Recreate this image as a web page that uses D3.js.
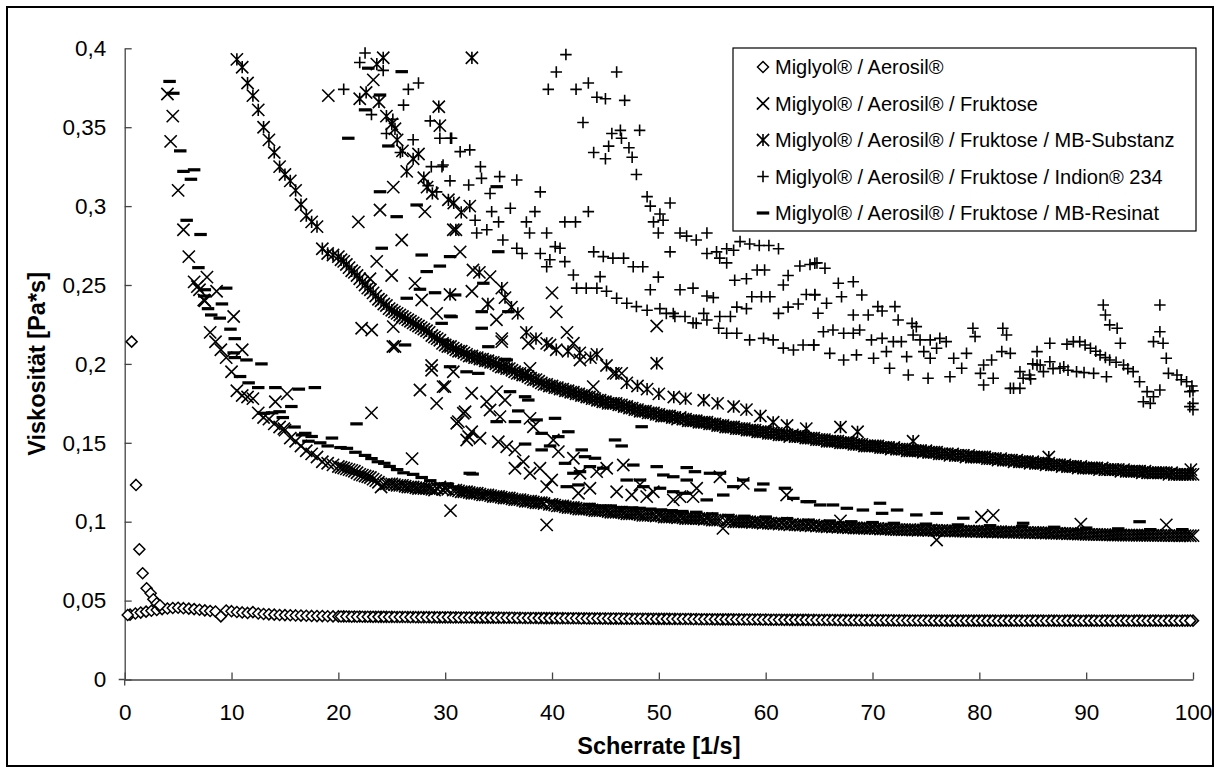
<!DOCTYPE html>
<html>
<head>
<meta charset="utf-8">
<script src="https://cdn.jsdelivr.net/npm/d3@7"></script>
<style>
  html, body { margin: 0; padding: 0; background: #fff; }
  svg { display: block; font-family: "Liberation Sans", Arial, sans-serif; }
</style>
</head>
<body>
<svg id="chart" width="1220" height="769"></svg>
<script>
// Viskosität vs. Scherrate, five formulations (Excel-style scatter)

// shear-rate grid of the upward ramps
const shearRate = [
  0.5, 1, 1.5, 2, 2.5, 3, 3.5, 4, 4.5, 5,
  5.5, 6, 6.5, 7, 7.5, 8, 8.5, 9, 9.5, 10,
  10.5, 11, 11.5, 12, 12.5, 13, 13.5, 14, 14.5, 15,
  15.5, 16, 16.5, 17, 17.5, 18, 18.5, 19, 19.5, 20,
  20.5, 21, 21.5, 22, 22.5, 23, 23.5, 24, 24.5, 25,
  25.5, 26, 26.5, 27, 27.5, 28, 28.5, 29, 29.5, 30,
  30.5, 31, 31.5, 32, 32.5, 33, 33.5, 34, 34.5, 35,
  35.5, 36, 36.5, 37, 37.5, 38, 38.5, 39, 39.5, 40,
  40.5, 41, 41.5, 42, 42.5, 43, 43.5, 44, 44.5, 45,
  45.5, 46, 46.5, 47, 47.5, 48, 48.5, 49, 49.5, 50,
  50.5, 51, 51.5, 52, 52.5, 53, 53.5, 54, 54.5, 55,
  55.5, 56, 56.5, 57, 57.5, 58, 58.5, 59, 59.5, 60,
  60.5, 61, 61.5, 62, 62.5, 63, 63.5, 64, 64.5, 65,
  65.5, 66, 66.5, 67, 67.5, 68, 68.5, 69, 69.5, 70,
  70.5, 71, 71.5, 72, 72.5, 73, 73.5, 74, 74.5, 75,
  75.5, 76, 76.5, 77, 77.5, 78, 78.5, 79, 79.5, 80,
  80.5, 81, 81.5, 82, 82.5, 83, 83.5, 84, 84.5, 85,
  85.5, 86, 86.5, 87, 87.5, 88, 88.5, 89, 89.5, 90,
  90.5, 91, 91.5, 92, 92.5, 93, 93.5, 94, 94.5, 95,
  95.5, 96, 96.5, 97, 97.5, 98, 98.5, 99, 99.5, 100
];

// shear-rate grid of the downward ramps (flat part only)
const shearRateDown = [
  20.25, 20.75, 21.25, 21.75, 22.25, 22.75, 23.25, 23.75, 24.25, 24.75,
  25.25, 25.75, 26.25, 26.75, 27.25, 27.75, 28.25, 28.75, 29.25, 29.75,
  30.25, 30.75, 31.25, 31.75, 32.25, 32.75, 33.25, 33.75, 34.25, 34.75,
  35.25, 35.75, 36.25, 36.75, 37.25, 37.75, 38.25, 38.75, 39.25, 39.75,
  40.25, 40.75, 41.25, 41.75, 42.25, 42.75, 43.25, 43.75, 44.25, 44.75,
  45.25, 45.75, 46.25, 46.75, 47.25, 47.75, 48.25, 48.75, 49.25, 49.75,
  50.25, 50.75, 51.25, 51.75, 52.25, 52.75, 53.25, 53.75, 54.25, 54.75,
  55.25, 55.75, 56.25, 56.75, 57.25, 57.75, 58.25, 58.75, 59.25, 59.75,
  60.25, 60.75, 61.25, 61.75, 62.25, 62.75, 63.25, 63.75, 64.25, 64.75,
  65.25, 65.75, 66.25, 66.75, 67.25, 67.75, 68.25, 68.75, 69.25, 69.75,
  70.25, 70.75, 71.25, 71.75, 72.25, 72.75, 73.25, 73.75, 74.25, 74.75,
  75.25, 75.75, 76.25, 76.75, 77.25, 77.75, 78.25, 78.75, 79.25, 79.75,
  80.25, 80.75, 81.25, 81.75, 82.25, 82.75, 83.25, 83.75, 84.25, 84.75,
  85.25, 85.75, 86.25, 86.75, 87.25, 87.75, 88.25, 88.75, 89.25, 89.75,
  90.25, 90.75, 91.25, 91.75, 92.25, 92.75, 93.25, 93.75, 94.25, 94.75,
  95.25, 95.75, 96.25, 96.75, 97.25, 97.75, 98.25, 98.75, 99.25, 99.75
];

// Miglyol / Aerosil (diamonds)
const aerosilY = [
  .0411, .0418, .0424, .0430, .0436, .0441, .0446, .0450, .0453, .0455,
  .0452, .0449, .0446, .0442, .0438, .0434, .0431, .0400, .0437, .0433,
  .0428, .0425, .0422, .0427, .0418, .0415, .0413, .0411, .0409, .0408,
  .0407, .0406, .0405, .0404, .0403, .0402, .0402, .0401, .0400, .0400,
  .0400, .0399, .0399, .0399, .0398, .0398, .0398, .0397, .0397, .0397,
  .0396, .0396, .0396, .0396, .0395, .0395, .0395, .0395, .0394, .0394,
  .0394, .0394, .0393, .0393, .0393, .0393, .0392, .0392, .0392, .0392,
  .0391, .0391, .0391, .0391, .0390, .0390, .0390, .0390, .0389, .0389,
  .0389, .0389, .0388, .0388, .0388, .0388, .0387, .0387, .0387, .0387,
  .0386, .0386, .0386, .0386, .0385, .0385, .0385, .0385, .0385, .0384,
  .0384, .0384, .0384, .0383, .0383, .0383, .0383, .0382, .0382, .0382,
  .0382, .0381, .0381, .0381, .0381, .0380, .0380, .0380, .0380, .0380,
  .0379, .0379, .0379, .0379, .0378, .0378, .0378, .0378, .0378, .0377,
  .0377, .0377, .0377, .0377, .0376, .0376, .0376, .0376, .0376, .0376,
  .0375, .0375, .0375, .0375, .0375, .0375, .0374, .0374, .0374, .0374,
  .0374, .0374, .0374, .0373, .0373, .0373, .0373, .0373, .0373, .0373,
  .0373, .0373, .0373, .0373, .0373, .0373, .0373, .0373, .0373, .0373,
  .0373, .0373, .0373, .0373, .0372, .0373, .0373, .0373, .0372, .0373,
  .0373, .0372, .0373, .0373, .0372, .0373, .0373, .0372, .0373, .0373,
  .0372, .0373, .0373, .0372, .0373, .0373, .0372, .0373, .0373, .0373
];
const aerosilDownY = [
  .0399, .0399, .0398, .0398, .0398, .0398, .0397, .0397, .0397, .0396,
  .0396, .0396, .0396, .0395, .0395, .0395, .0395, .0394, .0394, .0394,
  .0394, .0393, .0393, .0393, .0393, .0392, .0392, .0392, .0392, .0391,
  .0391, .0391, .0391, .0390, .0390, .0390, .0390, .0389, .0389, .0389,
  .0389, .0388, .0388, .0388, .0388, .0387, .0387, .0387, .0387, .0386,
  .0386, .0386, .0386, .0385, .0385, .0385, .0385, .0385, .0384, .0384,
  .0384, .0384, .0383, .0383, .0383, .0383, .0382, .0382, .0382, .0382,
  .0381, .0381, .0381, .0381, .0380, .0380, .0380, .0380, .0380, .0379,
  .0379, .0379, .0379, .0378, .0378, .0378, .0378, .0378, .0377, .0377,
  .0377, .0377, .0377, .0376, .0376, .0376, .0376, .0376, .0375, .0375,
  .0375, .0375, .0375, .0375, .0374, .0374, .0374, .0374, .0374, .0374,
  .0374, .0373, .0373, .0373, .0373, .0373, .0373, .0373, .0373, .0373,
  .0373, .0373, .0373, .0372, .0373, .0373, .0373, .0373, .0372, .0373,
  .0373, .0373, .0372, .0373, .0373, .0372, .0373, .0373, .0373, .0372,
  .0373, .0373, .0372, .0373, .0373, .0372, .0373, .0373, .0372, .0373,
  .0373, .0372, .0373, .0373, .0372, .0373, .0373, .0372, .0373, .0373
];
const aerosilExtra = [
  [0.28, .0409], [0.65, .2141], [1.06, .1233], [1.37, .0825], [1.68, .0673],
  [2.05, .0578], [2.43, .0546], [2.68, .0508], [3.0, .0483], [3.3, .0470]
];

// Miglyol / Aerosil / Fruktose (x)
const fruktoseY = [
  null, null, null, null, null, null, null, .371, .357, .310,
  .285, .268, .252, .247, .240, .220, .214, .209, .204, .195,
  .183, .180, .179, .178, .169, .166, .165, .162, .160, .158,
  .153, .151, .148, .145, .143, .141, .138, .137, .136, .135,
  .134, .133, .132, .130, .129, .128, .126, .122, .124, .124,
  .123, .123, .122, .122, .121, .121, .121, .120, .122, .121,
  .107, .120, .119, .119, .118, .118, .117, .117, .116, .116,
  .115, .115, .114, .114, .113, .113, .112, .112, .098, .111,
  .110, .110, .109, .109, .108, .108, .108, .107, .107, .107,
  .106, .106, .106, .105, .105, .105, .104, .104, .104, .104,
  .103, .103, .103, .103, .102, .102, .102, .102, .102, .101,
  .101, .0958, .101, .100, .100, .100, .100, .100, .0995, .0995,
  .099, .099, .099, .0985, .0985, .098, .098, .098, .0978, .0975,
  .097, .097, .097, .0968, .0965, .0965, .096, .096, .096, .096,
  .0958, .0955, .0955, .0952, .095, .095, .095, .0948, .0948, .0947,
  .0947, .0945, .0945, .0944, .0943, .0943, .094, .094, .094, .094,
  .0938, .0938, .0937, .0936, .0935, .0935, .0934, .0933, .0932, .0932,
  .0931, .093, .093, .0928, .0927, .0926, .0925, .0924, .0922, .092,
  .092, .0919, .0918, .0917, .0916, .0916, .0915, .0915, .0915, .0914,
  .0914, .0914, .0913, .0913, .0913, .0912, .0912, .0912, .0912, .0912
];
const fruktoseDownY = [
  .1345, .1335, .1325, .131, .1295, .1285, .127, .125, .1235, .124,
  .1235, .123, .1225, .122, .1215, .1212, .121, .1205, .121, .1205,
  .1205, .120, .1195, .119, .1185, .118, .1175, .117, .1165, .116,
  .1155, .115, .1145, .114, .1135, .113, .1125, .112, .1115, .111,
  .1105, .110, .1095, .109, .1085, .108, .108, .1075, .107, .107,
  .1065, .106, .106, .1055, .105, .105, .1045, .104, .104, .1035,
  .1035, .103, .103, .1025, .1025, .102, .102, .102, .1015, .1015,
  .101, .101, .1005, .1005, .100, .100, .100, .0995, .0995, .099,
  .099, .0988, .0985, .0983, .098, .098, .0978, .0976, .0974, .0972,
  .097, .0968, .0966, .0965, .0963, .0962, .096, .0959, .0958, .0957,
  .0956, .0954, .0953, .0951, .095, .0949, .0948, .0947, .0946, .0946,
  .0945, .0944, .0943, .0942, .0942, .0941, .094, .0939, .0938, .0938,
  .0937, .0936, .0935, .0935, .0934, .0933, .0932, .0932, .0931, .093,
  .093, .0929, .0928, .0927, .0926, .0925, .0924, .0923, .0922, .0921,
  .092, .0919, .0918, .0918, .0917, .0916, .0916, .0915, .0915, .0914,
  .0914, .0913, .0913, .0913, .0912, .0912, .0912, .0911, .0911, .0911
];
const fruktoseExtra = [
  [4.3, .341], [6.8, .249], [7.7, .255], [8.6, .246], [7.4, .2405], [10.2, .230], [11.0, .209],
  [14.1, .176], [15.2, .181], [14.9, .159], [23.1, .169], [25.1, .211], [26.9, .140],
  [19.06, .370], [23.27, .380], [21.87, .290], [23.9, .2975], [25.14, .312], [25.93, .2785],
  [23.59, .265], [24.99, .256], [22.96, .254], [27.17, .251], [27.8, .2405], [22.18, .2226],
  [23.12, .2215], [25.14, .2236], [25.3, .211], [29.2, .232], [28.73, .199], [28.1, .2965],
  [27.64, .1835], [28.73, .196], [29.8, .1856], [29.2, .175], [31.7, .1687], [31.08, .1624],
  [32.2, .154], [30.76, .195], [30.76, .285], [31.4, .271], [32.6, .2595], [34.2, .2553],
  [32.5, .246], [34.8, .228], [35.3, .216], [40.0, .245], [40.4, .233], [41.4, .220], [49.8, .224],
  [29.98, .1856], [32.48, .1814], [33.88, .176], [34.82, .1824], [35.6, .1771], [34.2, .1708],
  [35.13, .1666], [31.86, .1697], [31.23, .1634], [32.48, .157], [33.26, .1529], [32.01, .1518],
  [34.97, .1507], [35.76, .1475], [36.53, .1455], [37.94, .1655], [38.26, .1602], [40.12, .1518],
  [40.59, .1444], [36.53, .1339], [37.31, .138], [37.94, .1307], [38.87, .1339], [39.5, .1222],
  [39.97, .1264], [42.0, .1402], [42.62, .1307], [42.47, .118], [43.55, .1212], [44.18, .1317],
  [45.12, .1339], [46.67, .1359], [46.05, .119], [47.46, .1169], [48.23, .1233], [48.86, .1159],
  [49.48, .119], [51.35, .1138], [51.98, .1159], [53.2, .1159], [53.54, .1212], [55.72, .1285],
  [57.9, .1243], [61.96, .1169], [37.94, .1972], [35.29, .2141], [37.78, .2131], [39.81, .212],
  [42.0, .2131], [42.62, .2025], [43.86, .1856], [45.74, .194], [46.52, .194],
  [67.0, .1005], [80.2, .103], [81.3, .104], [76.0, .0884], [89.5, .0985], [97.5, .098]
];

// Miglyol / Aerosil / Fruktose / MB-Substanz (asterisk)
const substanzY = [
  null, null, null, null, null, null, null, null, null, null,
  null, null, null, null, null, null, null, null, null, null,
  .393, .388, .378, .370, .361, .350, .342, .334, .325, .320,
  .316, .310, .301, .294, .290, .287, .273, .270, .269, .268,
  .265, .261, .258, .254, .250, .247, .243, .240, .237, .234,
  .232, .230, .228, .226, .224, .222, .220, .217, .215, .212,
  .211, .209, .208, .206, .205, .204, .203, .202, .201, .199,
  .198, .197, .195, .194, .193, .191, .190, .188, .187, .186,
  .185, .184, .183, .182, .181, .180, .179, .178, .177, .176,
  .175, .175, .174, .173, .172, .171, .170, .169, .169, .168,
  .167, .167, .166, .166, .165, .164, .164, .163, .163, .162,
  .161, .161, .160, .160, .159, .159, .158, .158, .157, .157,
  .156, .156, .155, .155, .155, .154, .154, .153, .153, .152,
  .152, .151, .151, .150, .150, .150, .149, .149, .148, .148,
  .148, .147, .147, .147, .146, .146, .145, .145, .145, .145,
  .144, .144, .143, .143, .143, .142, .142, .142, .141, .141,
  .141, .140, .140, .140, .139, .139, .139, .138, .138, .138,
  .137, .137, .137, .136, .136, .136, .135, .135, .135, .134,
  .134, .134, .134, .133, .133, .133, .133, .132, .132, .132,
  .132, .131, .131, .131, .131, .131, .130, .130, .130, .130
];
const substanzDownY = [
  .266, .263, .259, .256, .252, .248, .245, .241, .238, .235,
  .233, .231, .229, .227, .225, .223, .221, .218, .216, .213,
  .211, .210, .208, .207, .205, .204, .203, .202, .201, .200,
  .198, .197, .196, .194, .193, .192, .190, .189, .187, .186,
  .185, .184, .183, .182, .181, .180, .179, .178, .177, .176,
  .175, .175, .174, .173, .172, .171, .170, .170, .169, .168,
  .167, .167, .166, .165, .165, .164, .164, .163, .163, .162,
  .162, .161, .160, .160, .159, .159, .158, .158, .157, .157,
  .156, .156, .155, .155, .154, .154, .154, .153, .153, .152,
  .152, .151, .151, .151, .150, .150, .149, .149, .148, .148,
  .148, .147, .147, .146, .146, .146, .145, .145, .145, .144,
  .144, .144, .143, .143, .142, .142, .142, .141, .141, .141,
  .141, .140, .140, .139, .139, .139, .138, .138, .138, .137,
  .137, .137, .136, .136, .136, .135, .135, .135, .134, .134,
  .134, .134, .133, .133, .133, .133, .132, .132, .132, .132,
  .131, .131, .131, .131, .131, .130, .130, .130, .130, .130
];
const substanzExtra = [
  [22.0, .368], [22.6, .372], [23.6, .390], [24.2, .394], [23.8, .366], [24.5, .357], [25.0, .352],
  [25.3, .349], [25.5, .342], [26.0, .335], [26.4, .322], [27.0, .330], [27.5, .333], [28.0, .318],
  [28.3, .312], [28.8, .308], [29.4, .363], [29.5, .351], [30.3, .304], [30.8, .302], [31.5, .296],
  [32.3, .300], [31.0, .285], [33.2, .258], [35.3, .248], [35.6, .242], [34.0, .238], [36.2, .236],
  [36.8, .232], [37.6, .220], [38.5, .216], [39.5, .213], [40.4, .209], [41.5, .208], [42.6, .207],
  [43.6, .204], [44.2, .206], [45.1, .199], [46.0, .194], [47.0, .188], [48.0, .186], [48.9, .184],
  [50.0, .181], [51.4, .179], [52.5, .178], [54.2, .177], [55.5, .175], [57.0, .173], [58.2, .171],
  [59.5, .167], [60.7, .163], [62.0, .161], [63.8, .159], [49.8, .2004], [32.5, .394], [30.45, .244],
  [67.0, .160], [68.6, .157], [73.8, .151], [86.5, .141], [99.8, .133]
];

// Miglyol / Aerosil / Fruktose / Indion 234 (plus)
const indion = [
  [22.5, .397], [22.0, .391], [24.2, .386], [20.5, .374], [23.1, .358], [26.55, .374], [27.5, .378],
  [26.1, .364], [25.1, .355], [24.5, .346], [28.6, .354], [29.5, .343], [30.5, .343], [27.0, .342],
  [25.8, .334], [28.7, .325], [29.7, .325], [30.45, .316], [28.4, .313], [29.2, .309],
  [41.3, .396], [40.4, .385], [46.05, .385], [39.65, .374], [42.25, .374], [43.4, .378], [44.2, .369],
  [45.0, .368], [46.8, .367], [42.9, .353], [45.6, .346], [46.4, .348], [48.2, .348], [46.5, .343],
  [43.9, .334], [45.0, .330], [45.3, .338], [47.2, .337], [47.5, .331], [47.9, .320], [48.9, .306],
  [49.2, .300], [50.1, .295], [51.05, .302], [49.5, .290], [50.4, .291], [49.95, .283], [51.98, .283],
  [54.5, .283], [52.6, .281], [53.5, .2785], [51.05, .271], [49.95, .255], [49.2, .247], [51.98, .247],
  [53.2, .248], [50.7, .232], [51.5, .230], [53.2, .226], [54.2, .232], [54.5, .243], [55.1, .242],
  [55.7, .230], [56.7, .230], [57.3, .236], [58.2, .235], [57.6, .2775], [58.5, .276], [59.4, .275],
  [60.3, .275], [61.2, .273], [54.5, .270], [55.4, .271], [56.35, .273], [57.0, .272], [55.7, .267],
  [56.35, .264], [57.1, .253], [58.2, .254], [59.2, .2595], [59.9, .2595], [58.7, .2426], [59.6, .2426],
  [60.4, .2426], [62.1, .256], [61.65, .250], [61.2, .232], [62.1, .236], [63.05, .238], [63.2, .262],
  [64.15, .263], [64.8, .264], [63.8, .244], [64.6, .244],
  [42.3, .248], [43.2, .248], [44.2, .248], [45.1, .246], [46.05, .2416], [47.0, .2384], [47.9, .2363],
  [48.9, .234], [50.1, .235], [51.35, .232], [52.45, .230], [53.5, .2257], [54.5, .2278], [55.6, .2226],
  [56.35, .2194], [57.3, .2194], [58.5, .2152], [59.8, .2162], [60.7, .2152], [61.65, .210],
  [62.6, .2088], [63.5, .212], [64.5, .212],
  [39.5, .283], [38.9, .309], [36.7, .3165], [35.1, .3187], [33.3, .325], [32.3, .3356], [31.4, .3345],
  [30.6, .343], [29.8, .326], [32.2, .3134], [33.4, .3176], [34.2, .308], [34.35, .2965], [36.1, .2986],
  [35.0, .290], [32.8, .291], [33.9, .285], [32.95, .283], [38.4, .2965], [37.6, .290], [37.9, .283],
  [35.4, .2785], [36.7, .2733], [37.2, .270], [38.9, .270], [39.8, .266], [39.5, .2616], [40.3, .2743],
  [40.75, .2733], [41.2, .290], [42.2, .290], [43.4, .2965], [41.2, .2648], [42.0, .2563], [44.5, .2553],
  [43.9, .271], [44.8, .268], [45.7, .267], [46.7, .267], [47.6, .2616], [48.5, .2616],
  [64.6, .2638], [65.55, .2606], [66.8, .2511], [68.2, .2521], [64.6, .2437], [65.7, .2384],
  [67.1, .2426], [69.0, .2437], [64.9, .2321], [68.2, .231], [69.6, .231], [70.5, .2363], [72.1, .2363],
  [70.9, .2335], [72.4, .2278], [73.7, .2257], [74.1, .2236],
  [65.4, .2204], [66.3, .2215], [67.3, .2194], [68.2, .2194], [68.8, .2215], [69.9, .2152], [70.9, .2162],
  [71.95, .2141], [72.7, .2141], [73.8, .2183], [74.45, .2152], [75.4, .2152], [76.3, .2162], [76.9, .2141],
  [64.5, .212], [66.0, .2067], [67.3, .2025], [68.5, .2057], [70.1, .2036], [71.6, .1972], [73.35, .193],
  [71.3, .2078], [73.2, .2046], [75.2, .1909], [75.4, .2036], [74.8, .2078], [76.0, .2099], [77.25, .1919],
  [77.6, .2036], [78.35, .1972], [78.8, .2067], [79.4, .2226], [79.6, .2173], [80.4, .1866], [81.3, .1909],
  [80.1, .194], [80.4, .1993], [81.15, .2025], [82.1, .2078], [82.2, .2226], [82.55, .2183], [82.9, .2067],
  [83.2, .1845], [83.8, .1845], [83.8, .1951], [84.7, .193], [85.4, .2078], [85.7, .1993], [86.6, .2131],
  [82.9, .1845], [84.1, .1909], [85.4, .1993], [86.6, .2014], [87.9, .1982], [88.8, .2141], [89.4, .2141],
  [90.4, .2099], [91.3, .2057], [92.2, .2025], [93.5, .1993], [94.4, .1951], [95.0, .1887], [95.7, .1824],
  [96.3, .1792], [96.9, .1835], [97.7, .194], [98.5, .193], [99.4, .1887], [99.7, .1824], [99.7, .1729],
  [86.0, .1951], [87.55, .1972], [89.1, .1951], [90.7, .194], [91.9, .1919],
  [88.2, .2125], [89.9, .212], [90.9, .208], [91.8, .204], [92.8, .201], [93.9, .197], [86.9, .197],
  [88.3, .196], [89.8, .1945], [84.8, .1905], [85.0, .200], [100, .175], [100, .171], [99.9, .186],
  [98.9, .190], [100, .183], [95.35, .176], [96.0, .175],
  [91.6, .2373], [91.8, .231], [92.2, .2247], [92.9, .2226], [93.2, .2131], [96.9, .2373], [96.9, .2204],
  [96.3, .2141], [97.2, .2131], [97.5, .2036]
];

// Miglyol / Aerosil / Fruktose / MB-Resinat (dash)
const resinat = [
  [4.2, .379], [4.55, .3715], [5.2, .335], [5.5, .322], [6.2, .317], [6.5, .323], [5.8, .291],
  [7.1, .282], [6.9, .261], [7.5, .247], [7.45, .243], [7.8, .235], [8.1, .231], [8.9, .229],
  [9.1, .238], [9.5, .248], [9.9, .222], [10.2, .207], [10.3, .216], [10.3, .204], [10.8, .192],
  [11.4, .2025], [11.6, .188], [12.5, .185], [12.8, .200], [13.8, .169], [14.1, .185], [15.6, .173],
  [16.3, .184], [16.6, .155], [17.5, .154], [17.8, .185], [19.4, .153], [21.7, .162],
  [13.0, .1687], [14.5, .1697], [14.8, .166], [15.9, .160], [16.9, .156], [17.2, .151], [18.3, .150],
  [19.0, .148], [20.2, .147], [20.8, .1465], [21.6, .144], [22.5, .142], [23.1, .140], [23.7, .138],
  [24.3, .137], [24.8, .135], [25.5, .133], [26.1, .131], [27.0, .130], [27.8, .128], [28.6, .126],
  [29.5, .124], [30.2, .124], [30.8, .122], [31.4, .121], [32.0, .119], [32.7, .1185],
  [33.5, .118], [34.2, .118], [35.0, .117], [36.0, .116], [37.0, .115], [38.0, .114], [38.9, .114],
  [40.0, .113], [41.0, .112], [42.0, .111], [43.5, .111], [44.5, .110], [45.5, .110], [46.5, .109],
  [47.5, .1088], [48.2, .1085], [49.2, .108], [50.2, .1075], [51.2, .107], [52.2, .1065], [53.5, .106],
  [55, .105], [56.5, .104], [58, .1035], [60, .103], [62, .102], [64, .101], [66, .1005], [68, .100],
  [70, .0995], [72, .099], [75, .0985], [78, .098], [81, .0975], [84, .097], [87, .0965], [90, .096],
  [93, .0955], [96, .095], [99, .095],
  [64.15, .1127], [65.1, .1106], [66.3, .1106], [67.6, .1085], [69.1, .1074], [70.7, .1117],
  [70.9, .1053], [72.3, .1074], [74.1, .1043], [76.0, .1053], [78.5, .1022], [84.1, .099], [95.0, .100],
  [56.97, .1222], [57.9, .1264], [59.78, .1239], [59.5, .1201], [61.8, .1212], [62.59, .1148], [63.84, .1127],
  [34.04, .2109], [35.6, .2029], [30.46, .1982], [32.0, .195], [33.1, .194], [36.07, .1824],
  [37.48, .1792], [37.78, .1771], [36.84, .1702], [34.82, .1634], [36.53, .1634], [38.56, .1645],
  [40.28, .1655], [39.03, .156], [41.53, .157], [40.59, .1539], [37.48, .1492], [39.82, .148],
  [39.03, .1455], [42.78, .1455], [45.9, .1518], [46.52, .148], [48.39, .1602], [43.09, .1412],
  [44.02, .1402], [43.55, .1349], [44.8, .1339], [41.22, .137], [42.0, .1307], [42.62, .1317],
  [41.38, .1222], [42.47, .1233], [47.61, .1359], [49.8, .1349], [52.61, .1343], [53.38, .1317],
  [54.79, .1307], [55.72, .1307], [46.99, .1264], [48.23, .1264], [50.42, .1296], [51.35, .1285],
  [52.61, .1264], [48.55, .1222], [50.11, .1212], [51.35, .119], [52.45, .118], [54.48, .1138],
  [56.03, .1169], [32.57, .1302], [32.3, .1307],
  [34.82, .3123], [34.97, .2711], [30.46, .268], [30.93, .2437], [30.6, .2299], [33.42, .2226],
  [33.42, .2331], [35.91, .2331], [35.76, .2025], [33.57, .2511],
  [22.8, .3874], [25.93, .3852], [23.9, .3704], [22.5, .361], [20.93, .343], [24.68, .3381],
  [23.9, .3091], [27.33, .3007], [25.46, .2933], [24.06, .2733], [27.8, .269], [29.5, .262],
  [28.27, .2585], [27.64, .2473], [29.05, .2451], [26.4, .2416], [26.24, .212], [29.67, .2257],
  [30.46, .2303], [29.8, .2151]
];

const seriesNames = [
  "Miglyol® / Aerosil®",
  "Miglyol® / Aerosil® / Fruktose",
  "Miglyol® / Aerosil® / Fruktose / MB-Substanz",
  "Miglyol® / Aerosil® / Fruktose / Indion® 234",
  "Miglyol® / Aerosil® / Fruktose / MB-Resinat"
];

const yTicks = [0, 0.05, 0.1, 0.15, 0.2, 0.25, 0.3, 0.35, 0.4];
const xTicks = [0, 10, 20, 30, 40, 50, 60, 70, 80, 90, 100];

// ---- layout
const svg = d3.select("#chart");
const W = 1220, H = 769;
const plot = { left: 124.7, right: 1193, top: 48.3, bottom: 679.5 };

const x = d3.scaleLinear().domain([0, 100]).range([plot.left, plot.right]);
const y = d3.scaleLinear().domain([0, 0.4]).range([plot.bottom, plot.top]);

// outer chart frame
svg.append("rect")
  .attr("x", 7).attr("y", 7)
  .attr("width", W - 14).attr("height", H - 10)
  .attr("fill", "#fff")
  .attr("stroke", "#000")
  .attr("stroke-width", 2);

// ---- marker shapes (Excel style)
const symDiamond = { draw(c, s) { const r = Math.sqrt(s) / 2; c.moveTo(0, -r); c.lineTo(r, 0); c.lineTo(0, r); c.lineTo(-r, 0); c.closePath(); } };
const symX = { draw(c, s) { const r = Math.sqrt(s) / 2; c.moveTo(-r, -r); c.lineTo(r, r); c.moveTo(-r, r); c.lineTo(r, -r); } };
const symStar = { draw(c, s) { const r = Math.sqrt(s) / 2; c.moveTo(-r, -r); c.lineTo(r, r); c.moveTo(-r, r); c.lineTo(r, -r); c.moveTo(0, -r); c.lineTo(0, r); } };
const symPlus = { draw(c, s) { const r = Math.sqrt(s) / 2; c.moveTo(-r, 0); c.lineTo(r, 0); c.moveTo(0, -r); c.lineTo(0, r); } };
const symDash = { draw(c, s) { const r = Math.sqrt(s) / 2; c.rect(-r, -1.6, 2 * r, 3.2); } };

const onGrid = (grid, ys) => grid.map((sr, i) => [sr, ys[i]]).filter(d => d[1] != null);

const series = [
  { name: seriesNames[0], data: onGrid(shearRate, aerosilY).concat(onGrid(shearRateDown, aerosilDownY), aerosilExtra),
    type: symDiamond, size: 121, fill: "#fff", stroke: "#000", sw: 1.5 },
  { name: seriesNames[1], data: onGrid(shearRate, fruktoseY).concat(onGrid(shearRateDown, fruktoseDownY), fruktoseExtra),
    type: symX, size: 150, fill: "none", stroke: "#000", sw: 1.6 },
  { name: seriesNames[2], data: onGrid(shearRate, substanzY).concat(onGrid(shearRateDown, substanzDownY), substanzExtra),
    type: symStar, size: 150, fill: "none", stroke: "#000", sw: 1.6 },
  { name: seriesNames[3], data: indion, type: symPlus, size: 132, fill: "none", stroke: "#000", sw: 1.6 },
  { name: seriesNames[4], data: resinat, type: symDash, size: 156, fill: "#000", stroke: "none", sw: 0 }
];

// ---- axes (ticks point inward)
const fmt = d => String(d).replace(".", ",");

const yAxis = svg.append("g")
  .attr("transform", `translate(${plot.left},0)`)
  .call(d3.axisLeft(y).tickValues(yTicks).tickFormat(fmt).tickSize(-7).tickSizeOuter(0).tickPadding(18.5));
const xAxis = svg.append("g")
  .attr("transform", `translate(0,${plot.bottom})`)
  .call(d3.axisBottom(x).tickValues(xTicks).tickFormat(fmt).tickSize(-7).tickSizeOuter(0).tickPadding(25));

[yAxis, xAxis].forEach(ax => {
  ax.select(".domain").attr("stroke", "#444").attr("stroke-width", 1.3);
  ax.selectAll(".tick line").attr("stroke", "#444").attr("stroke-width", 1.3);
  ax.selectAll(".tick text")
    .attr("fill", "#000")
    .style("font-size", "22.5px")
    .style("font-family", '"Liberation Sans", Arial, sans-serif');
});

// small cross at the origin
svg.append("path")
  .attr("d", `M${x(0) - 6},${y(0)}H${x(0)}M${x(0)},${y(0)}V${y(0) + 6}`)
  .attr("stroke", "#444")
  .attr("stroke-width", 1.3);

// ---- markers, drawn in series order
const marks = svg.append("g");
series.forEach(s => {
  const path = d3.symbol().type(s.type).size(s.size)();
  marks.append("g")
    .selectAll("path")
    .data(s.data)
    .join("path")
    .attr("transform", d => `translate(${x(d[0])},${y(d[1])})`)
    .attr("d", path)
    .attr("fill", s.fill)
    .attr("stroke", s.stroke)
    .attr("stroke-width", s.sw);
});

// ---- axis titles
svg.append("text")
  .attr("x", (plot.left + plot.right) / 2)
  .attr("y", 754)
  .attr("text-anchor", "middle")
  .style("font-size", "23.5px")
  .style("font-weight", "bold")
  .text("Scherrate [1/s]");

svg.append("text")
  .attr("transform", `translate(45,${(plot.top + plot.bottom) / 2}) rotate(-90)`)
  .attr("text-anchor", "middle")
  .style("font-size", "23.5px")
  .style("font-weight", "bold")
  .text("Viskosität [Pa*s]");

// ---- legend
const legend = svg.append("g");
legend.append("rect")
  .attr("x", 733).attr("y", 48)
  .attr("width", 463).attr("height", 183)
  .attr("fill", "#fff")
  .attr("stroke", "#000")
  .attr("stroke-width", 1.2);

series.forEach((s, i) => {
  const row = legend.append("g")
    .attr("transform", `translate(763,${67 + i * 36.5})`);
  row.append("path")
    .attr("d", d3.symbol().type(s.type).size(s.size)())
    .attr("fill", s.fill)
    .attr("stroke", s.stroke)
    .attr("stroke-width", s.sw);
  row.append("text")
    .attr("x", 12)
    .attr("dy", "0.36em")
    .style("font-size", "20px")
    .text(s.name);
});
</script>
</body>
</html>
